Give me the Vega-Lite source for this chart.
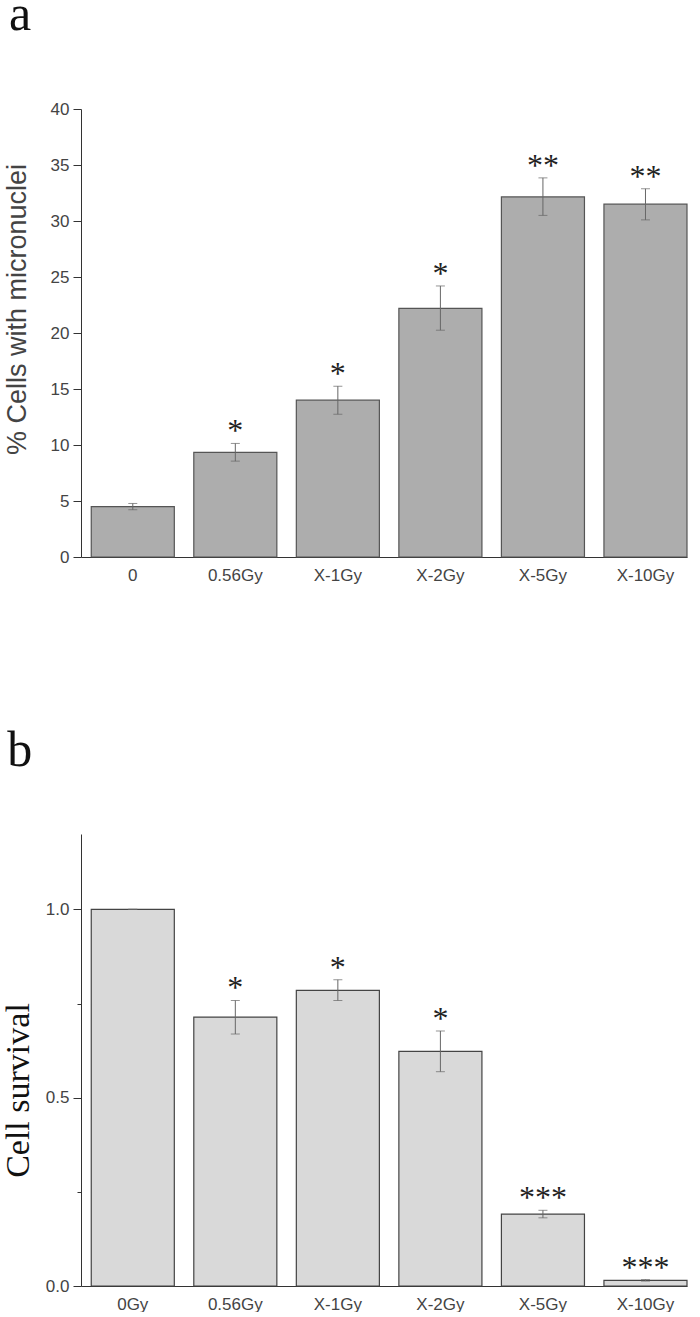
{
  "$schema": "https://vega.github.io/schema/vega-lite/v6.json",
  "padding": {"left": 1, "top": -10, "right": 10, "bottom": 0},
  "spacing": 143,
  "config": {
    "view": {"stroke": null},
    "axis": {"grid": false, "labelFont": "Liberation Sans", "labelColor": "#444", "labelFontSize": 17, "titleFontWeight": "normal", "domainColor": "#333", "tickColor": "#333"},
    "title": {"font": "Liberation Serif", "fontSize": 50, "fontWeight": "normal", "color": "#111", "anchor": "start", "frame": "bounds"}
  },
  "vconcat": [
    {
      "title": {"text": "a", "offset": 60, "dx": 6},
      "width": 606,
      "height": 448,
      "data": {"values": [
        {"dose": "0", "mean": 4.5, "lo": 4.22, "hi": 4.78, "sig": ""},
        {"dose": "0.56Gy", "mean": 9.35, "lo": 8.56, "hi": 10.14, "sig": "*"},
        {"dose": "X-1Gy", "mean": 14.0, "lo": 12.75, "hi": 15.25, "sig": "*"},
        {"dose": "X-2Gy", "mean": 22.2, "lo": 20.25, "hi": 24.2, "sig": "*"},
        {"dose": "X-5Gy", "mean": 32.15, "lo": 30.5, "hi": 33.85, "sig": "**"},
        {"dose": "X-10Gy", "mean": 31.5, "lo": 30.1, "hi": 32.88, "sig": "**"}
      ]},
      "encoding": {
        "x": {"field": "dose", "type": "nominal", "sort": null,
          "scale": {"paddingInner": 0.19, "paddingOuter": 0.05, "align": 1},
          "axis": {"title": null, "labelAngle": 0, "ticks": false, "labelPadding": 10}}
      },
      "layer": [
        {
          "mark": {"type": "bar", "fill": "#adadad", "stroke": "#555", "strokeWidth": 1.2},
          "encoding": {
            "y": {"field": "mean", "type": "quantitative", "title": "% Cells with micronuclei",
              "scale": {"domain": [0, 40], "nice": false},
              "axis": {"titleFont": "Liberation Sans", "titleFontSize": 27, "titleColor": "#444", "titlePadding": 19, "titleY": 200,
                "values": [0, 2.5, 5, 7.5, 10, 12.5, 15, 17.5, 20, 22.5, 25, 27.5, 30, 32.5, 35, 37.5, 40],
                "labelExpr": "datum.value % 5 === 0 ? datum.label : ''",
                "tickSize": {"condition": {"test": "datum.value % 5 === 0", "value": 8}, "value": 4},
                "labelPadding": 4}}
          }
        },
        {
          "mark": {"type": "errorbar", "ticks": {"size": 9, "color": "#666"}, "rule": {"color": "#666"}},
          "encoding": {
            "y": {"field": "lo", "type": "quantitative", "title": "% Cells with micronuclei"},
            "y2": {"field": "hi"}
          }
        },
        {
          "mark": {"type": "text", "font": "Liberation Serif", "fontSize": 32, "baseline": "alphabetic", "dy": -2, "color": "#222"},
          "encoding": {
            "y": {"field": "hi", "type": "quantitative", "title": "% Cells with micronuclei"},
            "text": {"field": "sig"}
          }
        }
      ]
    },
    {
      "title": {"text": "b", "offset": 58, "dx": 6},
      "width": 606,
      "height": 452,
      "data": {"values": [
        {"dose": "0Gy", "mean": 1.0, "lo": 1.0, "hi": 1.0, "sig": ""},
        {"dose": "0.56Gy", "mean": 0.714, "lo": 0.669, "hi": 0.758, "sig": "*"},
        {"dose": "X-1Gy", "mean": 0.785, "lo": 0.758, "hi": 0.813, "sig": "*"},
        {"dose": "X-2Gy", "mean": 0.623, "lo": 0.569, "hi": 0.677, "sig": "*"},
        {"dose": "X-5Gy", "mean": 0.191, "lo": 0.181, "hi": 0.201, "sig": "***"},
        {"dose": "X-10Gy", "mean": 0.015, "lo": 0.013, "hi": 0.017, "sig": "***"}
      ]},
      "encoding": {
        "x": {"field": "dose", "type": "nominal", "sort": null,
          "scale": {"paddingInner": 0.19, "paddingOuter": 0.05, "align": 1},
          "axis": {"title": null, "labelAngle": 0, "ticks": false, "labelPadding": 10}}
      },
      "layer": [
        {
          "mark": {"type": "bar", "fill": "#d9d9d9", "stroke": "#444", "strokeWidth": 1.2},
          "encoding": {
            "y": {"field": "mean", "type": "quantitative", "title": "Cell survival",
              "scale": {"domain": [0, 1.2], "nice": false},
              "axis": {"titleFont": "Liberation Serif", "titleFontSize": 34, "titleColor": "#111", "titlePadding": 10, "titleY": 256,
                "values": [0, 0.25, 0.5, 0.75, 1.0],
                "format": ".1f",
                "labelExpr": "indexof([0, 0.5, 1], datum.value) >= 0 ? datum.label : ''",
                "tickSize": {"condition": {"test": "indexof([0, 0.5, 1], datum.value) >= 0", "value": 8}, "value": 4},
                "labelPadding": 4}}
          }
        },
        {
          "mark": {"type": "errorbar", "ticks": {"size": 9, "color": "#666"}, "rule": {"color": "#666"}},
          "encoding": {
            "y": {"field": "lo", "type": "quantitative", "title": "Cell survival"},
            "y2": {"field": "hi"}
          }
        },
        {
          "mark": {"type": "text", "font": "Liberation Serif", "fontSize": 32, "baseline": "alphabetic", "dy": -2, "color": "#222"},
          "encoding": {
            "y": {"field": "hi", "type": "quantitative", "title": "Cell survival"},
            "text": {"field": "sig"}
          }
        }
      ]
    }
  ]
}
